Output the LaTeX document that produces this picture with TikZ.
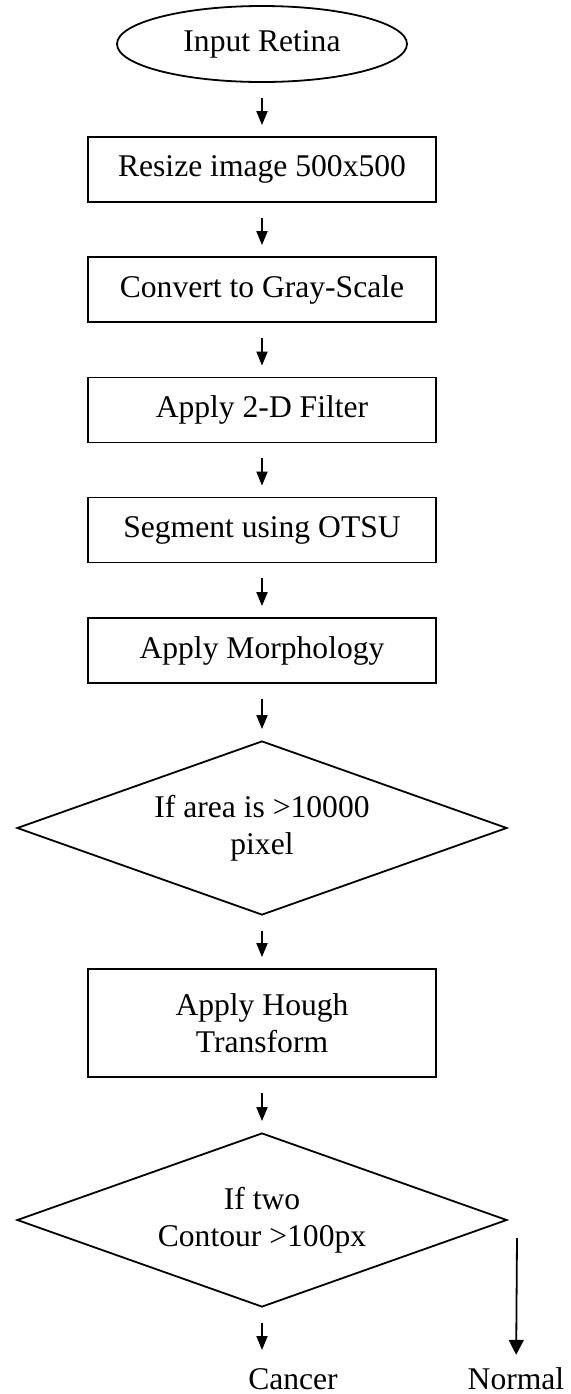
\documentclass[tikz,border=0pt]{standalone}
\usepackage{fontspec}
\setmainfont{Liberation Serif}
\usetikzlibrary{shapes.geometric,arrows.meta}

\tikzset{
  caja/.style={draw, line width=0.9pt, minimum width=174pt, minimum height=32.5pt, inner sep=0pt, align=center},
  rombo/.style={draw, diamond, shape aspect=2.82, line width=0.9pt, minimum width=245pt, minimum height=87pt, inner sep=0pt, align=center},
  flecha/.style={line width=0.9pt, -{Triangle[length=7pt,width=5.5pt]}, shorten <=7.5pt, shorten >=5.5pt},
}

\begin{document}
\begin{tikzpicture}[x=0.5pt, y=-0.5pt, font=\fontsize{15.8}{18.5}\selectfont] % 1 unidad = 1 pixel
    \useasboundingbox (0,0) rectangle (571,1394);
    % Entrada
    \node[draw, ellipse, line width=0.9pt, minimum width=145pt, minimum height=38pt, inner sep=0pt] (entrada) at (262,44) {Input Retina};
    % Pasos de preprocesado
    \node[caja] (resize) at (262,169.5) {Resize image 500x500};
    \node[caja] (gris) at (262,289.5) {Convert to Gray-Scale};
    \node[caja] (filtro) at (262,410) {Apply 2-D Filter};
    \node[caja] (otsu) at (262,530) {Segment using OTSU};
    \node[caja] (morfo) at (262,650.5) {Apply Morphology};
    % Primera decision
    \node[rombo] (area) at (262,828) {If area is >10000\\pixel};
    \node[caja, minimum height=54pt] (hough) at (262,1023) {Apply Hough\\Transform};
    % Segunda decision
    \node[rombo] (contorno) at (262,1220) {If two\\Contour >100px};
    % Resultados
    \node (cancer) at (293,1379) {Cancer};
    \node (normal) at (516,1379) {Normal};
    \coordinate (fincancer) at (262,1361);
    \coordinate (inicionormal) at (517,1238);
    % Flechas
    \draw[flecha] (entrada) -- (resize);
    \draw[flecha] (resize) -- (gris);
    \draw[flecha] (gris) -- (filtro);
    \draw[flecha] (filtro) -- (otsu);
    \draw[flecha] (otsu) -- (morfo);
    \draw[flecha] (morfo) -- (area);
    \draw[flecha] (area) -- (hough);
    \draw[flecha] (hough) -- (contorno);
    \draw[flecha] (contorno) -- (fincancer);
    \draw[flecha, -{Triangle[length=7.5pt,width=7.5pt]}, shorten <=0pt, shorten >=3pt] (inicionormal) -- (normal);
\end{tikzpicture}
\end{document}
